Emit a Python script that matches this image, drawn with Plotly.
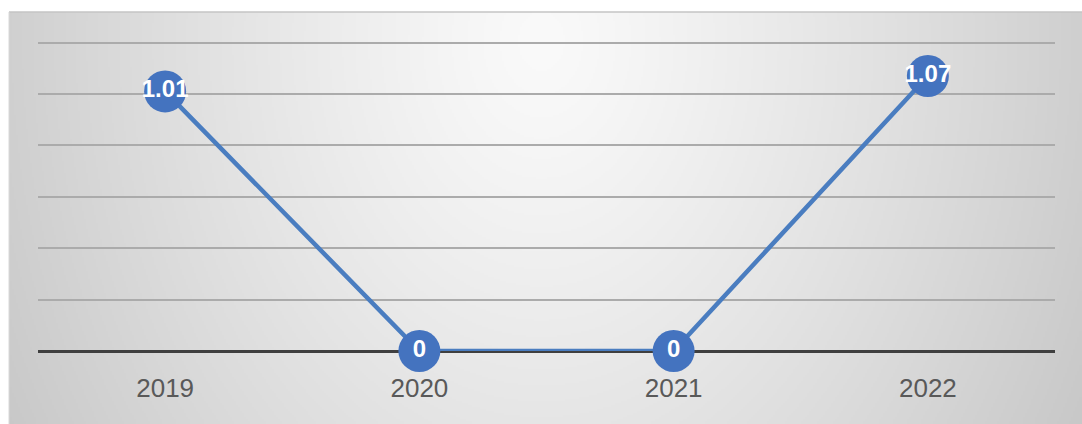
import base64, struct, zlib
import numpy as np
import plotly.graph_objects as go

years = ["2019", "2020", "2021", "2022"]
values = [1.01, 0, 0, 1.07]
labels = ["1.01", "0", "0", "1.07"]
y_ticks = [0, 0.2, 0.4, 0.6, 0.8, 1.0, 1.2]

# radial gradient background PNG (styling only), drawn in page pixels /2
BX0, BY0, BX1, BY1 = 9, 12, 1082, 424
W, H = (BX1 - BX0) // 2, (BY1 - BY0) // 2
yy, xx = np.mgrid[0:H, 0:W]
Xp = BX0 + xx * 2.0
Yp = BY0 + yy * 2.0
d = np.sqrt(((Xp - 540) / 530) ** 2 + ((Yp - 40) / 700) ** 2)
g = np.clip(250 - 42 * d ** 1.2, 195, 250).astype(np.uint8)
raw = b"".join(b"\x00" + g[r].tobytes() for r in range(H))
def chunk(t, data):
    c = struct.pack(">I", len(data)) + t + data
    return c + struct.pack(">I", zlib.crc32(t + data) & 0xffffffff)
png = b"\x89PNG\r\n\x1a\n" + chunk(b"IHDR", struct.pack(">IIBBBBB", W, H, 8, 0, 0, 0, 0)) \
    + chunk(b"IDAT", zlib.compress(raw, 9)) + chunk(b"IEND", b"")
uri = "data:image/png;base64," + base64.b64encode(png).decode()

L, R, T, B = 38, 27, 40, 73
pw, ph = 1082 - L - R, 424 - T - B
def px(x): return (x - L) / pw
def py(y): return (424 - B - y) / ph

fig = go.Figure()
fig.add_trace(go.Scatter(
    x=years, y=values, mode="lines+markers+text", text=labels,
    textposition="middle center",
    textfont=dict(family="Liberation Sans", size=24, color="white", weight="bold"),
    line=dict(color="#4a7dc0", width=4.5),
    marker=dict(size=42, color="#4473bf", line=dict(width=0)),
    cliponaxis=False, showlegend=False,
))

fig.add_layout_image(dict(
    source=uri, xref="paper", yref="paper",
    x=px(BX0), y=py(BY0), sizex=px(BX1) - px(BX0), sizey=py(BY0) - py(BY1),
    xanchor="left", yanchor="top", sizing="stretch", layer="below",
))
fig.add_shape(type="line", xref="paper", yref="paper", x0=px(BX0), x1=px(BX1), y0=py(BY0), y1=py(BY0),
              line=dict(color="#c4c4c4", width=1.5))
fig.add_shape(type="line", xref="paper", yref="paper", x0=px(BX0), x1=px(BX0), y0=py(BY0), y1=py(BY1),
              line=dict(color="#d8d8d8", width=1))

fig.update_layout(
    width=1082, height=424,
    margin=dict(l=L, r=R, t=T, b=B),
    paper_bgcolor="white", plot_bgcolor="rgba(0,0,0,0)",
    xaxis=dict(type="category", range=[-0.5, 3.5], showgrid=False, zeroline=False, showline=False,
               ticks="outside", ticklen=14, tickcolor="rgba(0,0,0,0)",
               tickfont=dict(family="Liberation Sans", size=26, color="#595959")),
    yaxis=dict(range=[0, 1.21], tickvals=y_ticks, showticklabels=False,
               showgrid=True, gridcolor="#ababab", gridwidth=1.5,
               zeroline=True, zerolinecolor="#3f3f3f", zerolinewidth=3, showline=False),
)
fig.write_html("out.html", config={"displayModeBar": False},
               post_script="document.body.style.margin='0';document.body.style.overflow='hidden';")
